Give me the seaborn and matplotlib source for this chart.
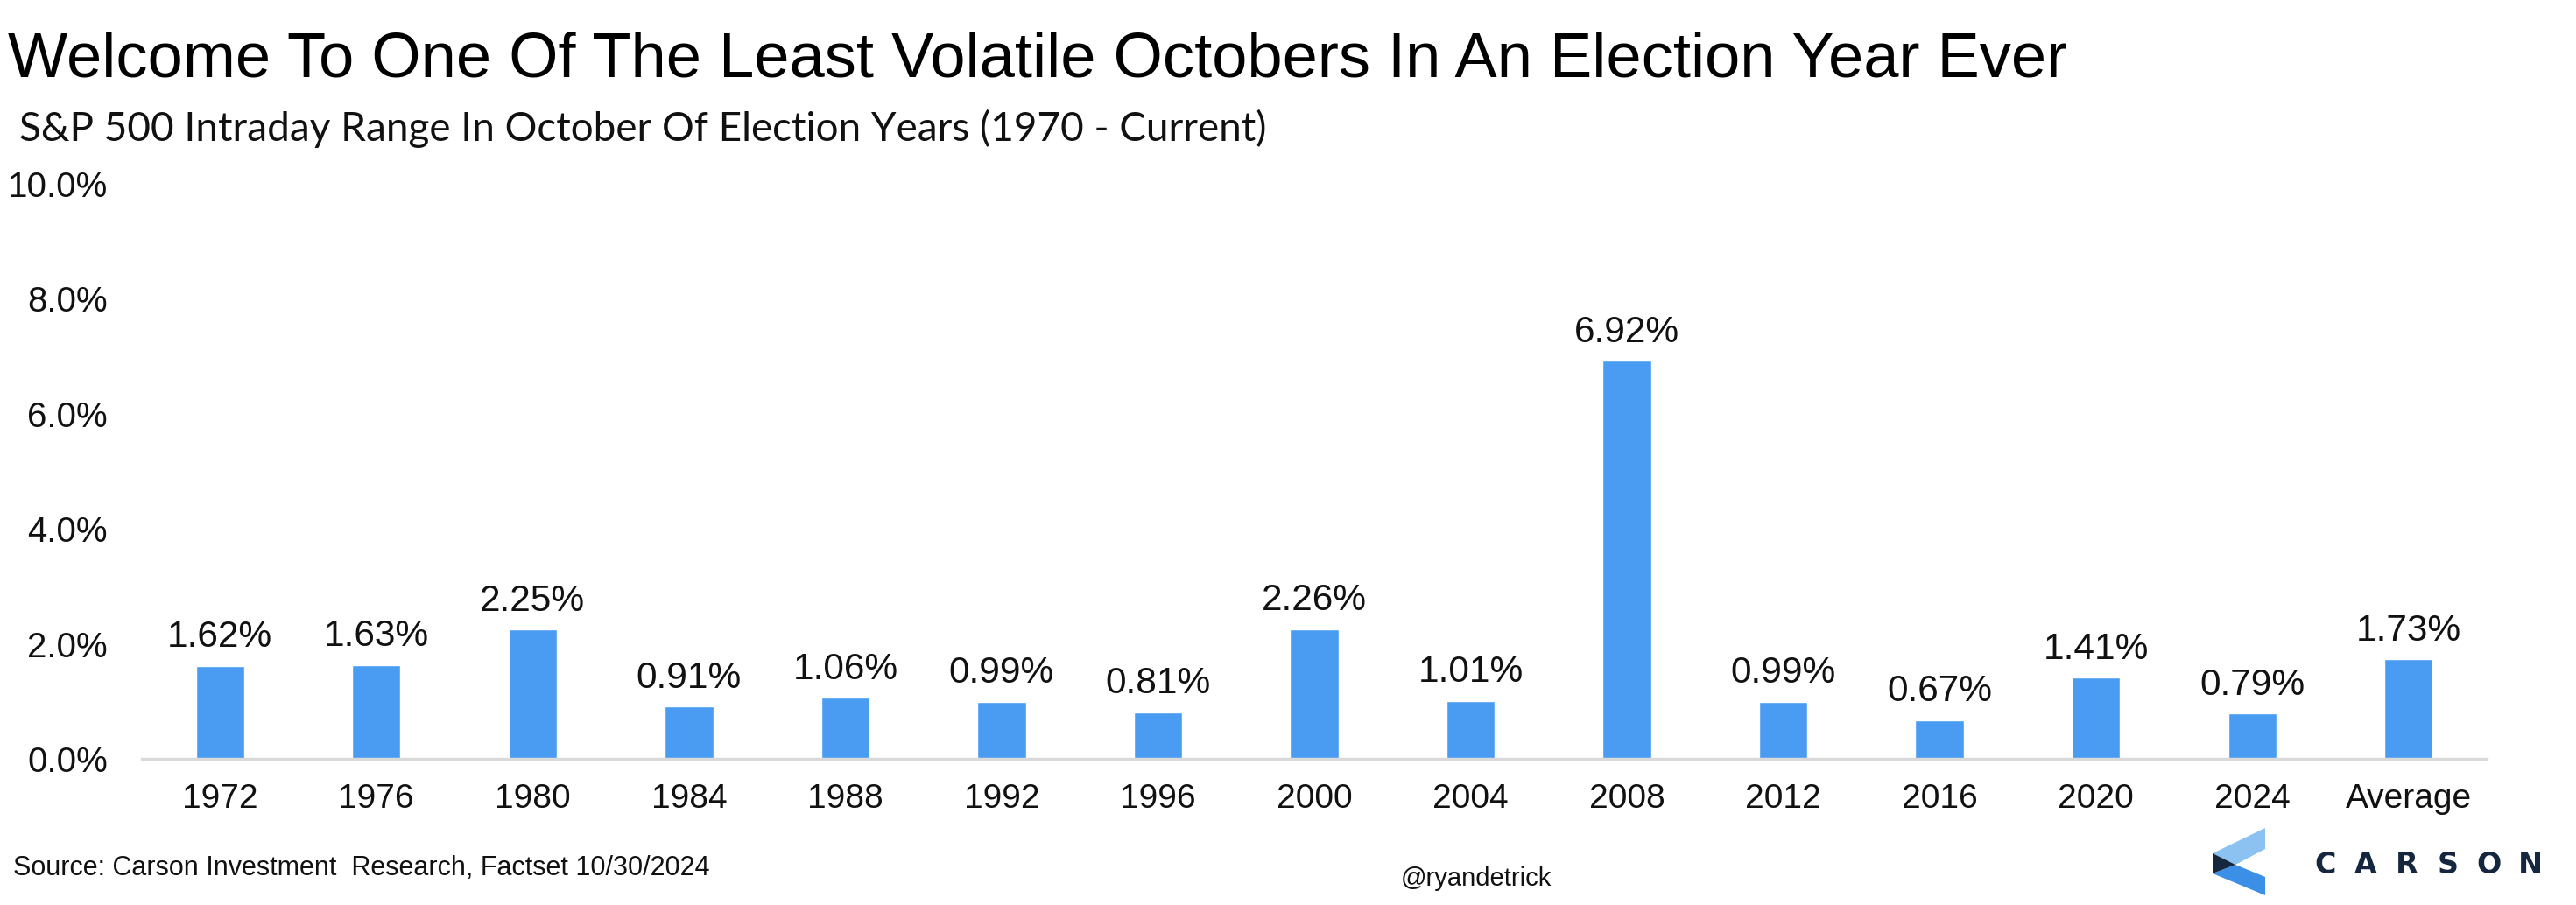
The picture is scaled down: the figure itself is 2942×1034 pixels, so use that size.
import matplotlib
matplotlib.use("Agg")
import matplotlib.pyplot as plt
import seaborn as sns
import pandas as pd
from matplotlib.patches import Polygon

categories = ["1972", "1976", "1980", "1984", "1988", "1992", "1996", "2000",
              "2004", "2008", "2012", "2016", "2020", "2024", "Average"]
values = [1.62, 1.63, 2.25, 0.91, 1.06, 0.99, 0.81, 2.26, 1.01, 6.92, 0.99,
          0.67, 1.41, 0.79, 1.73]
yticks = [0, 2, 4, 6, 8, 10]

title = "Welcome To One Of The Least Volatile Octobers In An Election Year Ever"
subtitle = "S&P 500 Intraday Range In October Of Election Years (1970 - Current)"
source = "Source: Carson Investment  Research, Factset 10/30/2024"
handle = "@ryandetrick"
logo_text = "CARSON"

sns.set_theme(style="white")
plt.rcParams['font.family'] = ['Liberation Sans', 'DejaVu Sans']

W, H = 2942, 1034
fig = plt.figure(figsize=(W / 100, H / 100), dpi=100)
ax = fig.add_axes([162 / W, 1 - 867 / H, (2840 - 162) / W, (867 - 210) / H])

df = pd.DataFrame({"cat": categories, "val": values})
sns.barplot(data=df, x="cat", y="val", color="#4A9CF2", width=0.31,
            saturation=1, ax=ax)

ax.set_ylim(0, 10)
ax.set_xlim(-0.5, len(categories) - 0.5)
ax.set_yticks(yticks)
ax.set_yticklabels([f"{v:.1f}%" for v in yticks], fontsize=29, color="#111111")
ax.tick_params(axis="y", length=0, pad=28)
ax.tick_params(axis="x", length=0, pad=20, labelsize=28, labelcolor="#111111")
ax.set_xlabel("")
ax.set_ylabel("")
for s in ["top", "right", "left"]:
    ax.spines[s].set_visible(False)
ax.spines["bottom"].set_color("#D9D9D9")
ax.spines["bottom"].set_linewidth(2.5)
ax.grid(False)

ax.bar_label(ax.containers[0], labels=[f"{v:.2f}%" for v in values],
             padding=9, fontsize=30.5, color="#111111")

fig.text(9 / W, 1 - 88 / H, title, fontsize=52, color="#000000",
         ha="left", va="baseline")
fig.text(22 / W, 1 - 161 / H, subtitle, fontsize=33, color="#111111",
         ha="left", va="baseline", family=["Lato", "DejaVu Sans"])
fig.text(15 / W, 1 - 992 / H, source, fontsize=22, color="#111111",
         ha="left", va="center")
fig.text(1600 / W, 1 - 1004 / H, handle, fontsize=21, color="#111111",
         ha="left", va="center")

# Carson logo
def px(pts):
    return [(x / W, 1 - y / H) for x, y in pts]

for pts, col in [
    ([(2587, 946), (2587, 970), (2553, 988), (2527, 975)], "#8CC2F2"),
    ([(2527, 998), (2553, 988), (2587, 1002), (2587, 1023)], "#3C8FE6"),
    ([(2527, 975), (2553, 988), (2527, 998)], "#15263F"),
]:
    fig.patches.append(Polygon(px(pts), closed=True, transform=fig.transFigure,
                               facecolor=col, edgecolor="none"))

x0, x1 = 2632, 2913
n = len(logo_text)
for i, ch in enumerate(logo_text):
    cx = x0 + (x1 - x0) * (i + 0.5) / n
    fig.text(cx / W, 1 - 989 / H, ch, fontsize=24, color="#15263F",
             ha="center", va="center", fontweight="bold",
             family=["DejaVu Sans"])

fig.savefig("out.png", dpi=100, facecolor="white")
